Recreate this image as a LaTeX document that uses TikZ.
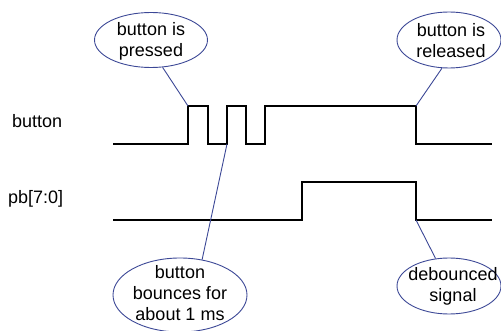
\documentclass[tikz,border=0pt]{standalone}
\usepackage{fontspec}
\setmainfont{Liberation Sans}
\usetikzlibrary{shapes.geometric}
\definecolor{callout}{RGB}{60,72,150}
\tikzset{
  wave/.style={line width=2pt, line join=miter},
  bubble/.style={draw=callout, line width=0.9pt, ellipse, inner sep=0pt},
  pointer/.style={draw=callout, line width=0.9pt},
  bubbletext/.style={align=center, inner sep=0pt, font=\fontsize{18}{21}\selectfont},
  sig/.style={inner sep=0pt, font=\fontsize{18}{21}\selectfont},
}
\begin{document}
\begin{tikzpicture}[x=1pt, y=-1pt]
\useasboundingbox (0,0) rectangle (501,331);
% signal labels
\node[sig, anchor=base west] (lbtn) at (12,128) {button};
\node[sig, anchor=base west] (lpb) at (8,204) {pb[7:0]};
% button waveform coordinates
\coordinate (b0) at (113,144);
\coordinate (b1) at (188,144);
\coordinate (b1h) at (188,106);
\coordinate (b2h) at (208,106);
\coordinate (b2) at (208,144);
\coordinate (b3) at (227,144);
\coordinate (b3h) at (227,106);
\coordinate (b4h) at (246,106);
\coordinate (b4) at (246,144);
\coordinate (b5) at (265,144);
\coordinate (b5h) at (265,106);
\coordinate (b6h) at (416,106);
\coordinate (b6) at (416,144);
\coordinate (b7) at (492,144);
\draw[wave] (b0) -- (b1) -- (b1h) -- (b2h) -- (b2) -- (b3) -- (b3h) -- (b4h) -- (b4) -- (b5) -- (b5h) -- (b6h) -- (b6) -- (b7);
% pb waveform
\coordinate (p0) at (113,220);
\coordinate (p1) at (302,220);
\coordinate (p1h) at (302,182);
\coordinate (p2h) at (416,182);
\coordinate (p2) at (416,220);
\coordinate (p3) at (492,220);
\draw[wave] (p0) -- (p1) -- (p1h) -- (p2h) -- (p2) -- (p3);
% callouts
\node[bubble, minimum width=113pt, minimum height=55pt] (pressed) at (151,40) {};
\node[bubbletext] (pressedt) at (151,41) {button is\\pressed};
\node[bubble, minimum width=104pt, minimum height=56pt] (released) at (449,40) {};
\node[bubbletext] (releasedt) at (451,41) {button is\\released};
\node[bubble, minimum width=134pt, minimum height=74pt] (bounces) at (180,295) {};
\node[bubbletext] (bouncest) at (180,293) {button\\bounces for\\about 1 ms};
\node[bubble, minimum width=104pt, minimum height=56pt] (deb) at (449,286) {};
\node[bubbletext] (debt) at (453,286) {debounced\\signal};
% pointers
\draw[pointer] (pressed.-67) -- (b1h);
\draw[pointer] (released.-104) -- (b6h);
\draw[pointer] (bounces.58) -- (b3);
\draw[pointer] (deb.116) -- (p2);
\end{tikzpicture}
\end{document}
